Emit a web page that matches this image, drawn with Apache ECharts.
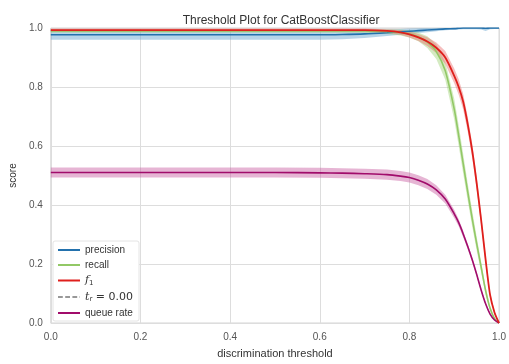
<!DOCTYPE html>
<html>
<head>
<meta charset="utf-8">
<script src="https://cdn.jsdelivr.net/npm/echarts@6/dist/echarts.min.js"></script>
<style>html,body{margin:0;padding:0;background:#fff}#c{width:509px;height:364px}</style>
</head>
<body>
<div id="c"></div>
<script>
const thresholds = [0,0.1,0.2,0.3,0.4,0.5,0.6,0.65,0.7,0.75,0.78,0.8,0.82,0.84,0.86,0.88,0.9,0.91,0.92,0.93,0.94,0.95,0.96,0.97,0.98,0.99,1.0];
const precision  = [0.977,0.977,0.977,0.977,0.977,0.977,0.977,0.978,0.980,0.984,0.987,0.989,0.991,0.993,0.995,0.997,0.998,0.999,1.0,1.0,1.0,1.0,1.0,0.999,1.0,1.0,1.0];
const precisionSpread = [0.017,0.017,0.017,0.017,0.017,0.017,0.017,0.016,0.014,0.011,0.010,0.009,0.008,0.007,0.006,0.005,0.004,0.004,0.004,0.004,0.004,0.004,0.005,0.009,0.004,0.003,0.003];
const recall     = [0.99,0.99,0.99,0.99,0.99,0.99,0.99,0.99,0.99,0.988,0.985,0.98,0.97,0.952,0.92,0.855,0.725,0.635,0.54,0.445,0.355,0.27,0.19,0.11,0.05,0.015,0];
const recallSpread = [0.006,0.006,0.006,0.006,0.006,0.006,0.006,0.006,0.006,0.008,0.01,0.012,0.015,0.02,0.025,0.03,0.035,0.035,0.033,0.03,0.027,0.023,0.018,0.013,0.008,0.004,0.002];
const f1         = [0.993,0.993,0.993,0.993,0.993,0.993,0.993,0.993,0.993,0.99,0.985,0.978,0.968,0.954,0.933,0.9,0.838,0.8,0.75,0.675,0.585,0.475,0.35,0.215,0.095,0.035,0];
const f1Spread   = [0.005,0.005,0.005,0.005,0.005,0.005,0.005,0.005,0.005,0.006,0.008,0.01,0.012,0.015,0.018,0.022,0.025,0.026,0.026,0.025,0.024,0.022,0.019,0.014,0.008,0.004,0.002];
const queueRate  = [0.51,0.51,0.51,0.51,0.51,0.51,0.509,0.508,0.506,0.503,0.498,0.493,0.484,0.471,0.451,0.42,0.37,0.34,0.302,0.26,0.215,0.165,0.112,0.065,0.03,0.01,0];
const queueSpread = [0.017,0.017,0.017,0.017,0.017,0.017,0.017,0.017,0.017,0.017,0.017,0.017,0.017,0.017,0.016,0.015,0.014,0.012,0.011,0.009,0.008,0.006,0.005,0.004,0.003,0.002,0.001];
const bestThreshold = 0.00;

const FONT = 'Liberation Sans, Arial, sans-serif';
const COLORS = {p:'#2371ad', r:'#92c866', f:'#df1f1c', q:'#a10c6b'};
const BANDS  = {p:'rgba(110,170,210,0.5)', r:'rgba(160,210,120,0.45)', f:'rgba(235,110,110,0.45)', q:'rgba(200,90,160,0.45)'};

function band(name, mean, spread, color) {
  return {
    type:'custom', name:name+'_band', silent:true, z:1,
    data:[0],
    renderItem:function(params, api){
      const pts=[];
      for(let i=0;i<thresholds.length;i++){ pts.push(api.coord([thresholds[i], Math.min(1, mean[i]+spread[i])])); }
      for(let i=thresholds.length-1;i>=0;i--){ pts.push(api.coord([thresholds[i], Math.max(0, mean[i]-spread[i])])); }
      return {type:'polygon', shape:{points:pts}, style:{fill:color}};
    }
  };
}
function line(name, vals, color, w, z) {
  return {type:'line', name:name, data:thresholds.map((t,i)=>[t,vals[i]]), showSymbol:false, symbol:'none',
    smooth:0.25, lineStyle:{color:color,width:w}, itemStyle:{color:color}, z:z||3};
}

const chart = echarts.init(document.getElementById('c'), null, {renderer:'canvas'});
chart.setOption({
  animation:false,
  backgroundColor:'#ffffff',
  title:{text:'Threshold Plot for CatBoostClassifier', left:276, top:10, textAlign:'center',
    textStyle:{fontFamily:FONT, fontSize:12, fontWeight:'normal', color:'#333'}},
  grid:{left:49, right:6, top:28, bottom:33, show:true, borderColor:'#d4d4d4', borderWidth:1},
  xAxis:{type:'value', min:0, max:1, interval:0.2, name:'discrimination threshold', nameLocation:'middle', nameGap:25,
    nameTextStyle:{fontFamily:FONT, fontSize:11, color:'#333'},
    axisLine:{show:false}, axisTick:{show:false},
    axisLabel:{fontFamily:FONT, fontSize:10, color:'#555', margin:9, formatter:v=>v.toFixed(1)},
    splitLine:{show:true, lineStyle:{color:'#dddddd', width:1}}},
  yAxis:{type:'value', min:0, max:1, interval:0.2, name:'score', nameLocation:'middle', nameGap:30,
    nameTextStyle:{fontFamily:FONT, fontSize:10, color:'#333'},
    axisLine:{show:false}, axisTick:{show:false},
    axisLabel:{fontFamily:FONT, fontSize:10, color:'#555', margin:8, formatter:v=>v.toFixed(1)},
    splitLine:{show:true, lineStyle:{color:'#dddddd', width:1}}},
  legend:{orient:'vertical', left:53, top:241, padding:[4,6,3,4], itemGap:5, itemWidth:22, itemHeight:12,
    backgroundColor:'#ffffff', borderColor:'#e4e4e4', borderWidth:1, borderRadius:2,
    itemStyle:{opacity:0},
    data:['precision','recall','f1',{name:'tr', lineStyle:{opacity:1, color:'#333', type:'dashed', width:1.2}},'queue rate'],
    textStyle:{fontFamily:FONT, fontSize:10, color:'#333',
      rich:{i:{fontStyle:'italic', fontSize:11, color:'#333', fontFamily:'DejaVu Serif, serif'},
            s:{fontSize:7, color:'#333', verticalAlign:'bottom', padding:[5,0,0,0], fontFamily:'DejaVu Sans, sans-serif'},
            n:{fontSize:11, color:'#333', fontFamily:'DejaVu Sans, sans-serif'}}},
    formatter:function(n){
      if(n==='f1') return '{i|f}{s|1}';
      if(n==='tr') return '{i|t}{s|r}{n| = '+bestThreshold.toFixed(2)+'}';
      return n;
    }},
  series:[
    band('precision', precision, precisionSpread, BANDS.p),
    band('recall', recall, recallSpread, BANDS.r),
    band('f1', f1, f1Spread, BANDS.f),
    band('queue rate', queueRate, queueSpread, BANDS.q),
    line('precision', precision, COLORS.p, 1.6, 4),
    line('recall', recall, COLORS.r, 1.6, 4),
    line('f1', f1, COLORS.f, 1.8, 5),
    {type:'line', name:'tr', data:[[bestThreshold,0],[bestThreshold,1]], showSymbol:false, symbol:'none',
      lineStyle:{color:'#333', width:1.2, type:'dashed', opacity:0}, itemStyle:{color:'#333'}, z:2},
    line('queue rate', queueRate, COLORS.q, 1.6, 4)
  ]
});
</script>
</body>
</html>
